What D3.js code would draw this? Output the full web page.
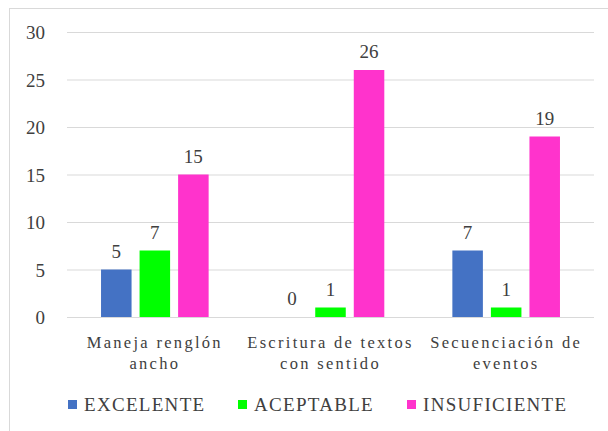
<!DOCTYPE html>
<html><head><meta charset="utf-8">
<script src="https://cdn.jsdelivr.net/npm/d3@7"></script>
<style>body{margin:0;background:#fff}svg{display:block}</style>
</head><body>
<script>
const categories = [["Maneja renglón","ancho"],["Escritura de textos","con sentido"],["Secuenciación de","eventos"]];
const seriesNames = ["EXCELENTE","ACEPTABLE","INSUFICIENTE"];
const seriesColors = ["#4472C4","#00FF00","#FF33CC"];
const excelente = [5,0,7];
const aceptable = [7,1,1];
const insuficiente = [15,26,19];
const yTicks = [0,5,10,15,20,25,30];

const W=608,H=431;
const svg=d3.select("body").append("svg").attr("width",W).attr("height",H);
svg.append("rect").attr("width",W).attr("height",H).attr("fill","#fff");
svg.append("line").attr("x1",9.5).attr("x2",9.5).attr("y1",8).attr("y2",H).attr("stroke","#d9d9d9");
svg.append("line").attr("x1",9).attr("x2",W).attr("y1",8.5).attr("y2",8.5).attr("stroke","#d9d9d9");

const font='"Liberation Serif"';
const x0=d3.scaleBand().domain(d3.range(categories.length)).range([67,594]);
const x1=d3.scaleBand().domain(d3.range(3)).range([0,x0.bandwidth()]).paddingInner(0.208).paddingOuter(0.883);
const y=d3.scaleLinear().domain([0,30]).range([317,32]);

const yAxis=svg.append("g").attr("transform","translate(67,0)")
  .call(d3.axisLeft(y).tickValues(yTicks).tickSize(-527).tickPadding(22));
yAxis.attr("font-family",null).attr("font-size",null);
yAxis.select(".domain").remove();
yAxis.selectAll(".tick line").attr("stroke","#d9d9d9").attr("stroke-width",1);
yAxis.selectAll(".tick text").style("font-family",font).style("font-size","19px")
  .attr("dy","0.35em").attr("fill","#404040");

const data=[excelente,aceptable,insuficiente];
categories.forEach((c,i)=>{
  const g=svg.append("g").attr("transform",`translate(${x0(i)},0)`);
  data.forEach((s,j)=>{
    const v=s[i];
    g.append("rect").attr("x",x1(j)).attr("width",x1.bandwidth())
      .attr("y",y(v)).attr("height",y(0)-y(v)).attr("fill",seriesColors[j]);
    g.append("text").attr("x",x1(j)+x1.bandwidth()/2).attr("y",y(v)-12)
      .attr("text-anchor","middle").style("font-family",font).style("font-size","19px")
      .attr("fill","#404040").text(v);
  });
  c.forEach((line,k)=>{
    svg.append("text").attr("x",x0(i)+x0.bandwidth()/2).attr("y",348+k*21)
      .attr("text-anchor","middle").style("font-family",font).style("font-size","16.5px")
      .style("letter-spacing","2.3px")
      .attr("fill","#404040").text(line);
  });
});

const legX=[68,238,407];
seriesNames.forEach((n,j)=>{
  svg.append("rect").attr("x",legX[j]).attr("y",400).attr("width",9).attr("height",9).attr("fill",seriesColors[j]);
  svg.append("text").attr("x",legX[j]+16).attr("y",411).style("font-family",font).style("font-size","19px")
    .style("letter-spacing","1.3px").attr("fill","#404040").text(n);
});
</script>
</body></html>
